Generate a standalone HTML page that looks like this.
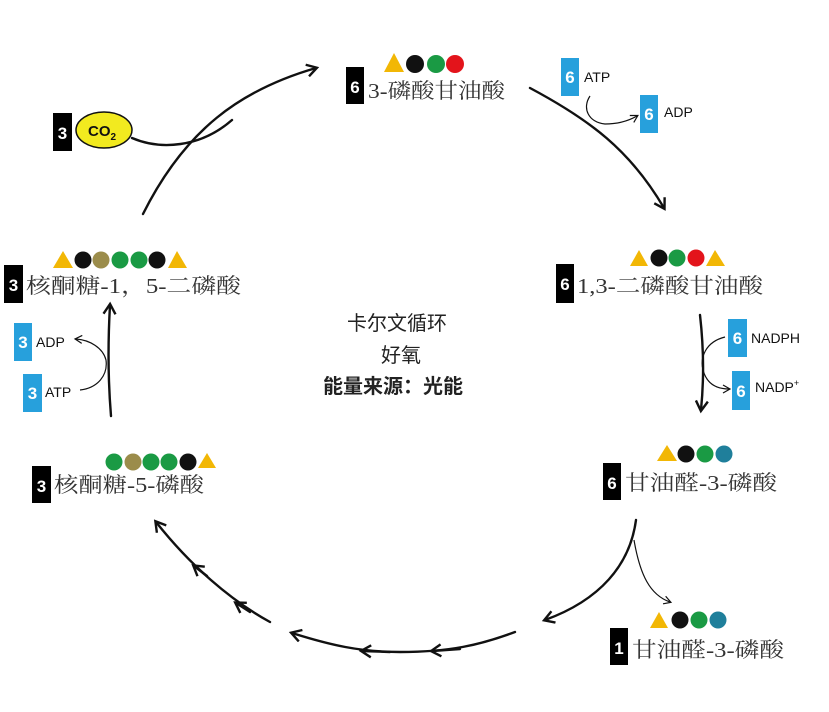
<!DOCTYPE html>
<html><head><meta charset="utf-8">
<style>
html,body{margin:0;padding:0;background:#fff;}
svg{display:block;}
.n{font-family:"Liberation Serif","Noto Serif CJK SC",serif;font-size:21px;fill:#333;}
.w{font-family:"Liberation Sans","DejaVu Sans",sans-serif;font-weight:bold;font-size:17px;fill:#fff;}
.s{font-family:"Liberation Sans","DejaVu Sans",sans-serif;font-size:14px;fill:#111;}
.c{font-family:"Liberation Sans","Noto Sans CJK SC",sans-serif;font-size:20px;fill:#222;}
.ln{fill:none;stroke:#111;stroke-width:2.4;stroke-linecap:round;}
.th{fill:none;stroke:#111;stroke-width:1.2;}
</style></head>
<body>
<svg width="829" height="712" viewBox="0 0 829 712" xmlns="http://www.w3.org/2000/svg">
<defs>
<marker id="a" markerWidth="14" markerHeight="14" refX="10" refY="7" orient="auto" markerUnits="userSpaceOnUse">
<path d="M1,1 L11,7 L1,13" fill="none" stroke="#111" stroke-width="2.4"/></marker>
<marker id="b" markerWidth="10" markerHeight="10" refX="7" refY="5" orient="auto" markerUnits="userSpaceOnUse">
<path d="M1,1 L8,5 L1,9" fill="none" stroke="#111" stroke-width="1.2"/></marker>
</defs>

<!-- top: 3-磷酸甘油酸 -->
<polygon points="384,72 394,53 404,72" fill="#f2b705"/>
<circle cx="415" cy="64" r="9" fill="#111"/>
<circle cx="436" cy="64" r="9" fill="#1a9a44"/>
<circle cx="455" cy="64" r="9" fill="#e3141b"/>
<rect x="346" y="67" width="18" height="37" fill="#000"/>
<text x="355" y="93" class="w" text-anchor="middle">6</text>
<text x="368" y="98" class="n" textLength="137" lengthAdjust="spacingAndGlyphs">3-磷酸甘油酸</text>

<!-- CO2 -->
<rect x="53" y="113" width="19" height="38" fill="#000"/>
<text x="62.5" y="139" class="w" text-anchor="middle">3</text>
<ellipse cx="104" cy="130" rx="28" ry="18" fill="#f2ea1f" stroke="#111" stroke-width="1.5"/>
<text x="88" y="136" class="s" style="font-weight:bold;font-size:15px">CO<tspan font-size="10" dy="4">2</tspan></text>
<path class="ln" d="M132,138 C160,150 200,148 232,120"/>
<path class="ln" d="M143,214 C185,130 240,90 316,68" marker-end="url(#a)"/>

<!-- right arrow -->
<path class="ln" d="M530,88 C590,120 630,150 664,208" marker-end="url(#a)"/>
<rect x="561" y="58" width="18" height="38" fill="#27a0dc"/>
<text x="570" y="83" class="w" text-anchor="middle">6</text>
<text x="584" y="82" class="s">ATP</text>
<rect x="640" y="95" width="18" height="38" fill="#27a0dc"/>
<text x="649" y="120" class="w" text-anchor="middle">6</text>
<text x="664" y="117" class="s">ADP</text>
<path class="th" d="M590,96 C582,108 588,122 605,124 C620,124 630,120 637,116" marker-end="url(#b)"/>

<!-- 1,3-二磷酸甘油酸 -->
<polygon points="630,266 639,250 648,266" fill="#f2b705"/>
<circle cx="659" cy="258" r="8.5" fill="#111"/>
<circle cx="677" cy="258" r="8.5" fill="#1a9a44"/>
<circle cx="696" cy="258" r="8.5" fill="#e3141b"/>
<polygon points="706,266 715,250 725,266" fill="#f2b705"/>
<rect x="556" y="264" width="18" height="39" fill="#000"/>
<text x="565" y="290" class="w" text-anchor="middle">6</text>
<text x="577" y="293" class="n" textLength="186" lengthAdjust="spacingAndGlyphs">1,3-二磷酸甘油酸</text>

<!-- down arrow -->
<path class="ln" d="M700,315 C704,350 704,380 701,410" marker-end="url(#a)"/>
<rect x="728" y="319" width="19" height="38" fill="#27a0dc"/>
<text x="737.5" y="344" class="w" text-anchor="middle">6</text>
<text x="751" y="343" class="s">NADPH</text>
<rect x="732" y="371" width="18" height="39" fill="#27a0dc"/>
<text x="741" y="397" class="w" text-anchor="middle">6</text>
<text x="755" y="392" class="s">NADP<tspan font-size="9" dy="-6">+</tspan></text>
<path class="th" d="M725,337 C705,342 700,358 703,370 C707,385 718,389 729,389" marker-end="url(#b)"/>

<!-- 甘油醛-3-磷酸 (6) -->
<polygon points="657,461 667,445 677,461" fill="#f2b705"/>
<circle cx="686" cy="454" r="8.5" fill="#111"/>
<circle cx="705" cy="454" r="8.5" fill="#1a9a44"/>
<circle cx="724" cy="454" r="8.5" fill="#1f7f9b"/>
<rect x="603" y="463" width="18" height="37" fill="#000"/>
<text x="612" y="489" class="w" text-anchor="middle">6</text>
<text x="625" y="490" class="n" textLength="152" lengthAdjust="spacingAndGlyphs">甘油醛-3-磷酸</text>

<!-- branching -->
<path class="ln" d="M636,520 C630,565 600,600 545,620" marker-end="url(#a)"/>
<path class="th" d="M634,540 C640,575 650,595 670,602" marker-end="url(#b)"/>

<!-- 1 甘油醛-3-磷酸 -->
<polygon points="650,628 659,612 668,628" fill="#f2b705"/>
<circle cx="680" cy="620" r="8.5" fill="#111"/>
<circle cx="699" cy="620" r="8.5" fill="#1a9a44"/>
<circle cx="718" cy="620" r="8.5" fill="#1f7f9b"/>
<rect x="610" y="628" width="18" height="37" fill="#000"/>
<text x="619" y="654" class="w" text-anchor="middle">1</text>
<text x="632" y="657" class="n" textLength="152" lengthAdjust="spacingAndGlyphs">甘油醛-3-磷酸</text>

<!-- bottom arc -->
<path class="ln" d="M515,632 C480,645 450,652 400,652 C360,652 330,645 292,633" marker-end="url(#a)"/>
<path class="ln" d="M460,649 L432,651" marker-end="url(#a)"/>
<path class="ln" d="M390,652 L362,651" marker-end="url(#a)"/>
<path class="ln" d="M270,622 C230,600 190,565 156,522" marker-end="url(#a)"/>
<path class="ln" d="M250,612 L236,603" marker-end="url(#a)"/>
<path class="ln" d="M207,576 L194,566" marker-end="url(#a)"/>

<!-- 核酮糖-5-磷酸 -->
<circle cx="114" cy="462" r="8.5" fill="#1a9a44"/>
<circle cx="133" cy="462" r="8.5" fill="#9b8c4b"/>
<circle cx="151" cy="462" r="8.5" fill="#1a9a44"/>
<circle cx="169" cy="462" r="8.5" fill="#1a9a44"/>
<circle cx="188" cy="462" r="8.5" fill="#111"/>
<polygon points="198,468 207,453 216,468" fill="#f2b705"/>
<rect x="32" y="466" width="19" height="37" fill="#000"/>
<text x="41.5" y="492" class="w" text-anchor="middle">3</text>
<text x="54" y="492" class="n" textLength="150" lengthAdjust="spacingAndGlyphs">核酮糖-5-磷酸</text>

<!-- up arrow -->
<path class="ln" d="M111,416 C108,380 108,340 110,305" marker-end="url(#a)"/>
<rect x="14" y="323" width="18" height="38" fill="#27a0dc"/>
<text x="23" y="348" class="w" text-anchor="middle">3</text>
<text x="36" y="347" class="s">ADP</text>
<rect x="23" y="374" width="19" height="38" fill="#27a0dc"/>
<text x="32.5" y="399" class="w" text-anchor="middle">3</text>
<text x="45" y="397" class="s">ATP</text>
<path class="th" d="M80,390 C98,388 108,375 106,360 C103,348 90,340 76,339" marker-end="url(#b)"/>

<!-- 核酮糖-1,5-二磷酸 -->
<polygon points="53,268 63,251 73,268" fill="#f2b705"/>
<circle cx="83" cy="260" r="8.5" fill="#111"/>
<circle cx="101" cy="260" r="8.5" fill="#9b8c4b"/>
<circle cx="120" cy="260" r="8.5" fill="#1a9a44"/>
<circle cx="139" cy="260" r="8.5" fill="#1a9a44"/>
<circle cx="157" cy="260" r="8.5" fill="#111"/>
<polygon points="168,268 177,251 187,268" fill="#f2b705"/>
<rect x="4" y="265" width="19" height="38" fill="#000"/>
<text x="13.5" y="291" class="w" text-anchor="middle">3</text>
<text x="26" y="293" class="n" textLength="215" lengthAdjust="spacingAndGlyphs">核酮糖-1，5-二磷酸</text>

<!-- center -->
<text x="397" y="330" class="c" text-anchor="middle">卡尔文循环</text>
<text x="401" y="362" class="c" text-anchor="middle">好氧</text>
<text x="393" y="393" class="c" text-anchor="middle" style="font-weight:bold">能量来源：光能</text>
</svg>
</body></html>
